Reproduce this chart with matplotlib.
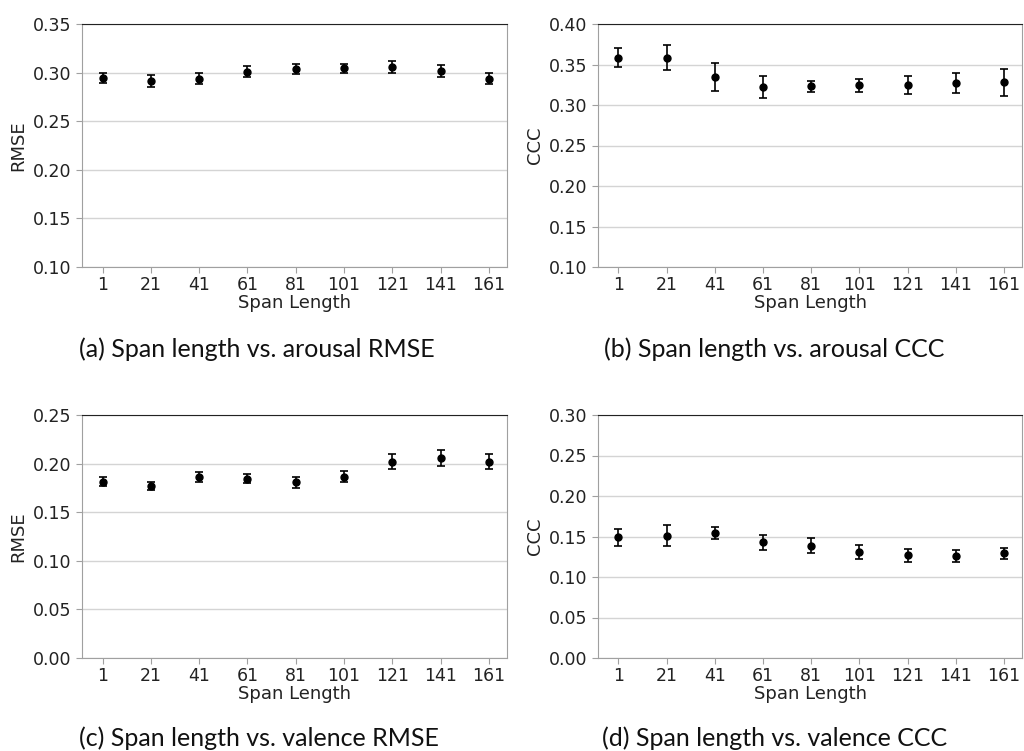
import numpy as np
from matplotlib import pyplot as plt

span = [1, 21, 41, 61, 81, 101, 121, 141, 161]

aro_rmse = [0.2948, 0.2914, 0.2938, 0.3007, 0.3038, 0.3045, 0.3055, 0.3017, 0.2938]
aro_rmse_err = [0.0050, 0.0059, 0.0058, 0.0057, 0.0053, 0.0047, 0.0062, 0.0062, 0.0055]

aro_ccc = [0.3583, 0.3583, 0.3346, 0.3221, 0.3229, 0.3242, 0.3242, 0.3271, 0.3279]
aro_ccc_err = [0.0115, 0.0154, 0.0175, 0.0135, 0.0069, 0.0077, 0.0110, 0.0119, 0.0169]

val_rmse = [0.1815, 0.1771, 0.1866, 0.1846, 0.1808, 0.1866, 0.2021, 0.2058, 0.2021]
val_rmse_err = [0.0046, 0.0043, 0.0051, 0.0045, 0.0055, 0.0057, 0.0079, 0.0084, 0.0080]

val_ccc = [0.1492, 0.1508, 0.1546, 0.1429, 0.1388, 0.1313, 0.1267, 0.1258, 0.1292]
val_ccc_err = [0.0104, 0.0129, 0.0071, 0.0090, 0.0088, 0.0085, 0.0079, 0.0071, 0.0071]

captions = ['(a) Span length vs. arousal RMSE', '(b) Span length vs. arousal CCC',
            '(c) Span length vs. valence RMSE', '(d) Span length vs. valence CCC']

W, H = 1024, 751
fig = plt.figure(figsize=(W / 100, H / 100), dpi=100)

def box(l, t, r, b):
    return [l / W, 1 - b / H, (r - l) / W, (b - t) / H]

panels = [
    (box(82, 24, 507, 267), aro_rmse, aro_rmse_err, 'RMSE', (0.10, 0.35)),
    (box(598, 24, 1022, 267), aro_ccc, aro_ccc_err, 'CCC', (0.10, 0.40)),
    (box(82, 415, 507, 658), val_rmse, val_rmse_err, 'RMSE', (0.0, 0.25)),
    (box(598, 415, 1022, 658), val_ccc, val_ccc_err, 'CCC', (0.0, 0.30)),
]

for rect, vals, errs, ylab, ylim in panels:
    ax = fig.add_axes(rect)
    ax.errorbar(span, vals, yerr=errs, fmt='o', color='black', markersize=5,
                capsize=3, elinewidth=1.2, capthick=1.2, zorder=3)
    ax.set_ylim(ylim)
    ax.set_yticks(np.arange(ylim[0], ylim[1] + 0.001, 0.05))
    ax.yaxis.set_major_formatter(plt.FormatStrFormatter('%.2f'))
    ax.set_xticks(span)
    ax.set_xlim(-7.5, 168.5)
    ax.grid(axis='y', color='#d4d4d4', linewidth=1)
    ax.set_axisbelow(True)
    for s in ['left', 'right', 'bottom']:
        ax.spines[s].set_color('#a0a0a0')
    ax.spines['top'].set_color('#222222')
    ax.tick_params(colors='#a0a0a0', labelcolor='#222222', labelsize=12.5, length=4)
    ax.tick_params(axis='x', pad=2.5)
    ax.set_ylabel(ylab, fontsize=13, color='#222222')
    ax.set_xlabel('Span Length', fontsize=13, color='#222222', labelpad=0)

cap_pos = [(257, 357), (774, 357), (259, 746), (775, 746)]
for (x, y), txt in zip(cap_pos, captions):
    fig.text(x / W, 1 - y / H, txt, ha='center', va='baseline', fontsize=18,
             family='Lato', color='#111111')

plt.savefig('out.png', dpi=100)
